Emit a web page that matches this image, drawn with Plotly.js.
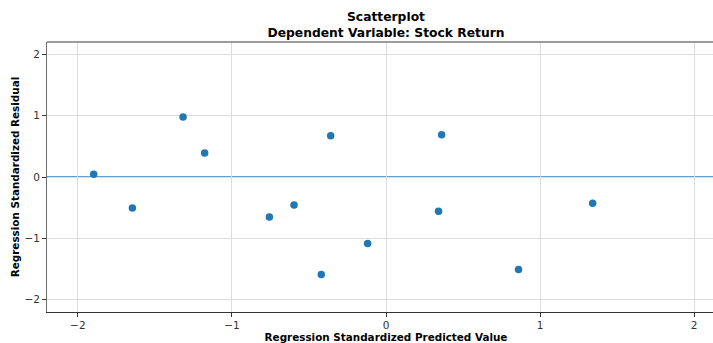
<!DOCTYPE html>
<html>
<head>
<meta charset="utf-8">
<script src="https://cdn.plot.ly/plotly-3.0.1.min.js"></script>
<style>
html,body{margin:0;padding:0;overflow:hidden;background:#fff;width:713px;height:343px;}
#chart{width:725px;height:343px;}
</style>
</head>
<body>
<div id="chart"></div>
<script>
const predicted = [-1.897, -1.317, -1.177, -0.359, 0.361, -1.646, -0.757, -0.597, -0.420, -0.119, 0.341, 0.860, 1.341];
const residual  = [0.044, 0.976, 0.390, 0.672, 0.688, -0.504, -0.650, -0.455, -1.588, -1.084, -0.558, -1.507, -0.428];
const tickVals = [-2, -1, 0, 1, 2];
const referenceResidual = 0;

const font = 'DejaVu Sans, sans-serif';

const trace = {
  x: predicted,
  y: residual,
  type: 'scatter',
  mode: 'markers',
  marker: {color: '#1f77b4', size: 7.5},
  hoverinfo: 'skip'
};

const layout = {
  width: 725,
  height: 343,
  margin: {l: 47, r: 0, t: 42, b: 31},
  paper_bgcolor: '#fff',
  plot_bgcolor: '#fff',
  showlegend: false,
  font: {family: font, size: 10, color: '#333'},
  title: {
    text: '<b>Scatterplot</b><br><b>Dependent Variable: Stock Return</b>',
    font: {family: font, size: 12.3, color: '#000'},
    x: 0.5, xref: 'paper',
    y: 1 - 21/343, yref: 'container', yanchor: 'top'
  },
  xaxis: {
    range: [-2.2, 2.2],
    tickvals: tickVals,
    ticks: 'outside', ticklen: 3.5, tickwidth: 1, tickcolor: '#333',
    showgrid: true, gridcolor: '#dcdcdc', gridwidth: 1,
    zeroline: false,
    showline: true, linecolor: '#333', linewidth: 1.2,
    tickfont: {family: font, size: 10.5, color: '#333'},
    title: {text: '<b>Regression Standardized Predicted Value</b>', font: {family: font, size: 10.4, color: '#000'}, standoff: 6}
  },
  yaxis: {
    range: [-2.2, 2.2],
    tickvals: tickVals,
    ticks: 'outside', ticklen: 3.5, tickwidth: 1, tickcolor: '#333',
    showgrid: true, gridcolor: '#dcdcdc', gridwidth: 1,
    zeroline: false,
    showline: true, linecolor: '#6e6e6e', linewidth: 1.5,
    tickfont: {family: font, size: 10.5, color: '#333'},
    title: {text: '<b>Regression Standardized Residual</b>', font: {family: font, size: 10.4, color: '#000'}, standoff: 3}
  },
  shapes: [
    {type: 'line', xref: 'paper', yref: 'y', x0: 0, x1: 1, y0: referenceResidual, y1: referenceResidual,
     layer: 'below', line: {color: '#2f80bd', width: 1.5}},
    {type: 'line', xref: 'paper', yref: 'paper', x0: 0, x1: 1, y0: 1, y1: 1,
     line: {color: '#7a7a7a', width: 1.5}}
  ]
};

Plotly.newPlot('chart', [trace], layout, {displayModeBar: false, staticPlot: true});
</script>
</body>
</html>
